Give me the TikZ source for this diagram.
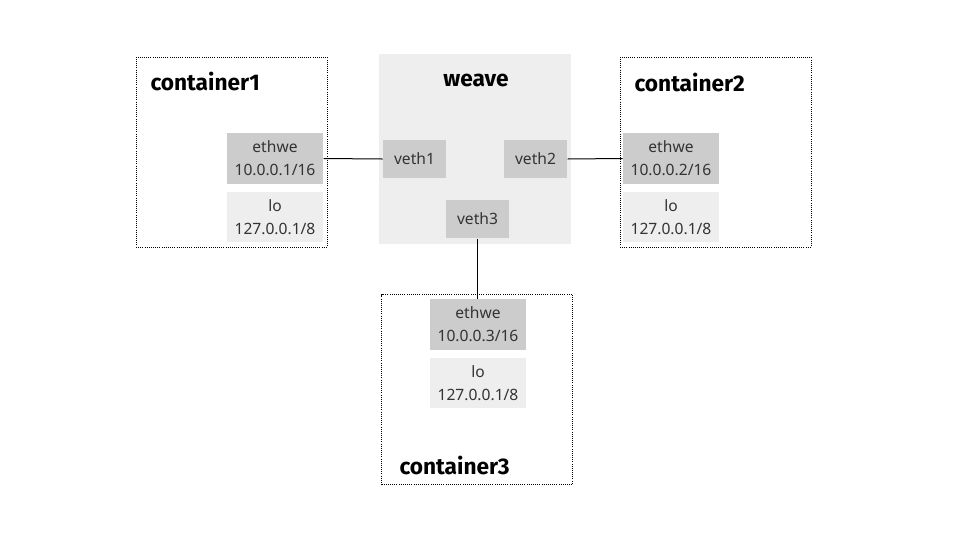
\documentclass[tikz,border=0pt]{standalone}
\usepackage{fontspec}
\setmainfont{Noto Sans}
\newfontfamily\titlefont{Fira Sans}
\usetikzlibrary{positioning}
\definecolor{ifdark}{HTML}{CCCCCC}
\definecolor{iflight}{HTML}{EEEEEE}
\definecolor{txt}{HTML}{333333}

\begin{document}
\begin{tikzpicture}[x=0.75pt, y=-0.75pt, line width=0.75pt,
	box/.style={draw, densely dotted, line width=0.6pt, minimum width=143.25pt, minimum height=142.5pt, inner sep=0pt},
	title/.style={font=\titlefont\fontsize{17}{18}\selectfont\bfseries, anchor=west, inner sep=0pt},
	ethwe/.style={fill=ifdark, text=txt, minimum width=72pt, minimum height=38.25pt, inner sep=0pt, align=center, font=\fontsize{11.7}{17}\selectfont},
	loif/.style={fill=iflight, text=txt, minimum width=72pt, minimum height=37.5pt, inner sep=0pt, align=center, font=\fontsize{11.7}{17}\selectfont},
	veth/.style={fill=ifdark, text=txt, minimum width=47.25pt, minimum height=28.5pt, inner sep=0pt, font=\fontsize{11.7}{14}\selectfont}]

\useasboundingbox (0,0) rectangle (960,540);

% weave bridge
\node[fill=iflight, minimum width=144pt, minimum height=142.5pt, inner sep=0pt] (weave) at (475,149) {};
\node[title, anchor=center] (weavet) at (476,80) {weave};
\node[veth] (veth1) at (414.5,159) {veth1};
\node[veth] (veth2) at (535.5,159) {veth2};
\node[veth] (veth3) at (477.5,219) {veth3};

% containers
\foreach \n/\x/\y/\ex/\ey/\ly/\tx/\ty in {1/231.5/152/275/158.5/217/150/81,
	2/715.5/152/671/158.5/217/634/82,
	3/477/389.5/478/324.5/383/399/465}
{
	\node[box] (c\n) at (\x,\y) {};
	\node[title] (c\n t) at (\tx,\ty) {container\n};
	\node[ethwe] (eth\n) at (\ex,\ey) {ethwe\\10.0.0.\n/16};
	\node[loif] (lo\n) at (\ex,\ly) {lo\\127.0.0.1/8};
}

\draw (eth1.east) -- (veth1.west);
\draw (veth2.east) -- (eth2.west);
\draw (veth3.south) -- (veth3.south |- eth3.north);

\end{tikzpicture}
\end{document}
